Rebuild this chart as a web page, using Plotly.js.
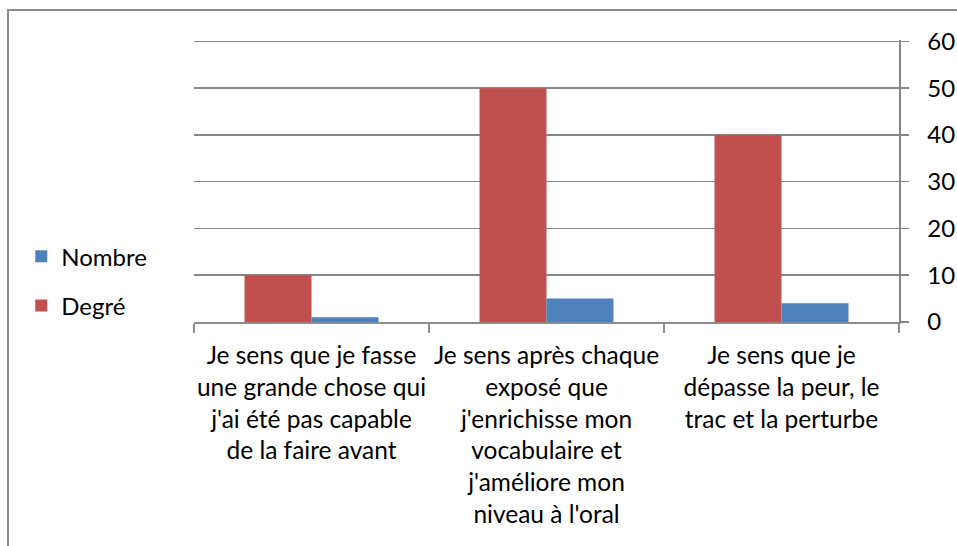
<!DOCTYPE html>
<html>
<head>
<meta charset="utf-8">
<script src="https://cdn.plot.ly/plotly-3.0.1.min.js"></script>
<style>
html,body{margin:0;padding:0;background:#fff;overflow:hidden;}
#frame{position:absolute;left:7px;top:9px;width:1000px;height:600px;border:2px solid #8c8c8c;box-sizing:border-box;pointer-events:none;z-index:5;}
#chart{position:absolute;left:0;top:0;width:957px;height:546px;}
</style>
</head>
<body>
<div id="chart"></div>
<div id="frame"></div>
<script>
const categories = [
  "Je sens que je fasse<br>une grande chose qui<br>j'ai été pas capable<br>de la faire avant",
  "Je sens après chaque<br>exposé que<br>j'enrichisse mon<br>vocabulaire et<br>j'améliore mon<br>niveau à l'oral",
  "Je sens que je<br>dépasse la peur, le<br>trac et la perturbe"
];
const degreValues = [10, 50, 40];
const nombreValues = [1, 5, 4];
const yTicks = [0, 10, 20, 30, 40, 50, 60];

const font = {family: "Lato, 'Open Sans', sans-serif", size: 24, color: "#000"};
const xFont = {family: "Lato, 'Open Sans', sans-serif", size: 24.5, color: "#000"};

const data = [
  {type: "bar", name: "Degré", x: categories, y: degreValues,
   marker: {color: "#C0504D"}, legendgroup: "d", legendrank: 2},
  {type: "bar", name: "Nombre", x: categories, y: nombreValues,
   marker: {color: "#4F81BD"}, legendgroup: "n", legendrank: 1}
];

const layout = {
  width: 957, height: 546,
  margin: {l: 194, r: 58, t: 40, b: 224, pad: 0},
  paper_bgcolor: "#fff", plot_bgcolor: "#fff",
  font: font,
  barmode: "group", bargap: 0.43, bargroupgap: 0,
  showlegend: true,
  legend: {
    x: -0.245, xanchor: "left", y: 0.145, yanchor: "middle",
    traceorder: "grouped", tracegroupgap: 15,
    font: font, bgcolor: "rgba(0,0,0,0)"
  },
  xaxis: {
    type: "category", range: [-0.5, 2.5],
    showgrid: false, showline: true, linecolor: "#8c8c8c", linewidth: 1.5,
    ticks: "outside", tickson: "boundaries", ticklen: 9, tickcolor: "#8c8c8c", tickwidth: 1.5,
    tickfont: xFont, tickangle: 0, ticklabelstandoff: 11
  },
  yaxis: {
    side: "right", range: [0, 60.3], tickvals: yTicks, ticktext: yTicks.map(String),
    showgrid: true, gridcolor: "#868686", gridwidth: 1.5,
    showline: true, linecolor: "#868686", linewidth: 1.5,
    ticks: "outside", ticklen: 8, tickcolor: "#868686", tickwidth: 1.5,
    tickfont: font, ticklabelstandoff: 14, zeroline: false
  }
};

Plotly.newPlot("chart", data, layout, {staticPlot: true, displayModeBar: false});
</script>
</body>
</html>
